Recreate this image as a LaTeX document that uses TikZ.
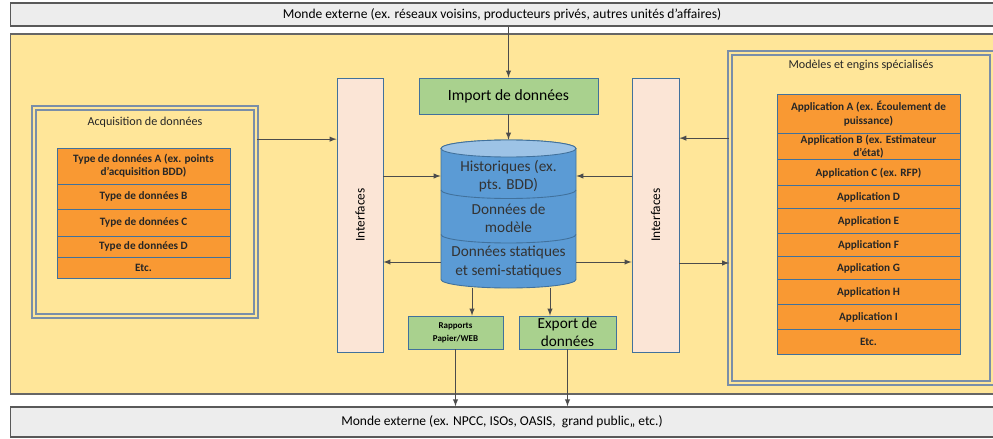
\documentclass[tikz,border=0pt]{standalone}
\usepackage{fontspec}
\setmainfont{Carlito}
\usepackage{graphicx}
\usetikzlibrary{chains,positioning,arrows}

\definecolor{fond}{HTML}{FFE699}
\definecolor{barfill}{HTML}{EDEDED}
\definecolor{orange1}{RGB}{249,153,51}
\definecolor{vert1}{HTML}{A9D18E}
\definecolor{rose1}{HTML}{FBE5D6}
\definecolor{bleu1}{HTML}{5B9BD5}
\definecolor{bleu2}{HTML}{9DC3E6}
\definecolor{bordure}{HTML}{41719C}
\definecolor{cadreline}{HTML}{7A8EA8}

\begin{document}
\begin{tikzpicture}[x=0.02cm,y=-0.02cm,
        bar/.style={
          draw=black!65,
          line width=0.8pt,
          fill=barfill,
          minimum width=19.66cm,
          inner sep=0pt,
          font=\fontsize{7.7}{9}\selectfont
        },
        cadre/.style={
          draw=cadreline,
          double=fond,
          double distance=0.9pt,
          line width=1pt,
          inner sep=0pt
        },
        titre/.style={
          font=\fontsize{6.9}{8}\selectfont,
          text=black!85
        },
        orow/.style={
          on chain,
          draw=bordure,
          fill=orange1,
          line width=0.5pt,
          inner sep=1pt,
          outer sep=0pt,
          align=center,
          text=black!85,
          font=\fontsize{6.4}{7.6}\selectfont\bfseries
        },
        vert/.style={
          draw=bordure,
          fill=vert1,
          line width=0.5pt,
          inner sep=1pt,
          align=center
        },
        intf/.style={
          draw=bordure,
          fill=rose1,
          line width=0.5pt,
          minimum height=5.48cm,
          inner sep=0pt,
          font=\fontsize{7.6}{9}\selectfont
        },
        dbtxt/.style={
          align=center,
          text=black!80,
          font=\fontsize{8.7}{10.4}\selectfont
        },
        fl/.style={-latex,draw=black!70,line width=0.4pt},
        node distance=0pt
        ]
        \useasboundingbox[fill=white] (0,0) rectangle (993,439);

        \node[bar,minimum height=0.46cm] (haut) at (502,14.5)
          {Monde externe (ex. réseaux voisins, producteurs privés, autres unités d’affaires)};
        \node[draw=black!60,line width=0.7pt,fill=fond,minimum width=19.66cm,minimum height=7.2cm] (zone) at (502,214) {};
        \node[bar,minimum height=0.6cm] (bas) at (502,422)
          {Monde externe (ex. NPCC, ISOs, OASIS,~ grand public,, etc.)};

        % acquisition
        \node[cadre,minimum width=4.44cm,minimum height=4.16cm] (acq) at (145,212) {};
        \node[titre] (acqt) at (145,122) {Acquisition de données};
        \begin{scope}[start chain=acqs going below]
        \node[orow,minimum width=3.46cm,minimum height=0.72cm,anchor=north] at (143.5,148)
          (tA) {Type de données A (ex. points\\d’acquisition BDD)};
        \node[orow,minimum width=3.46cm,minimum height=0.5cm] (tB) {Type de données B};
        \node[orow,minimum width=3.46cm,minimum height=0.54cm] (tC) {Type de données C};
        \node[orow,minimum width=3.46cm,minimum height=0.42cm] (tD) {Type de données D};
        \node[orow,minimum width=3.46cm,minimum height=0.42cm] (tE) {Etc.};
        \end{scope}

        % modeles
        \node[cadre,minimum width=5.24cm,minimum height=6.6cm] (mod) at (861,218) {};
        \node[titre] (modt) at (861,65) {Modèles et engins spécialisés};
        \begin{scope}[start chain=apps going below]
        \node[orow,minimum width=3.66cm,minimum height=0.78cm,anchor=north] at (868.5,94)
          (aA) {Application A (ex. Écoulement de\\puissance)};
        \node[orow,minimum width=3.66cm,minimum height=0.5cm] (aB) {Application B (ex. Estimateur\\d’état)};
        \node[orow,minimum width=3.66cm,minimum height=0.52cm] (aC) {Application C (ex. RFP)};
        \node[orow,minimum width=3.66cm,minimum height=0.46cm] (aD) {Application D};
        \node[orow,minimum width=3.66cm,minimum height=0.5cm] (aE) {Application E};
        \node[orow,minimum width=3.66cm,minimum height=0.46cm] (aF) {Application F};
        \node[orow,minimum width=3.66cm,minimum height=0.46cm] (aG) {Application G};
        \node[orow,minimum width=3.66cm,minimum height=0.5cm] (aH) {Application H};
        \node[orow,minimum width=3.66cm,minimum height=0.5cm] (aI) {Application I};
        \node[orow,minimum width=3.66cm,minimum height=0.5cm] (aJ) {Etc.};
        \end{scope}

        % interfaces
        \node[intf,minimum width=0.92cm] (ifl) at (360,215) {\rotatebox{90}{Interfaces}};
        \node[intf,minimum width=0.94cm] (ifr) at (655.5,215) {\rotatebox{90}{Interfaces}};

        \node[vert,minimum width=3.58cm,minimum height=0.72cm,font=\fontsize{8.9}{10}\selectfont] (imp) at (508.5,96)
          {Import de données};
        \node[vert,minimum width=1.9cm,minimum height=0.66cm,font=\fontsize{5.1}{7.2}\selectfont\bfseries] (rap) at (455.5,332.5)
          {Rapports\\Papier/WEB};
        \node[vert,minimum width=1.94cm,minimum height=0.66cm,font=\fontsize{8.7}{10}\selectfont] (exp) at (567.5,332.5)
          {Export de\\données};

        % base de donnees
        \node[minimum width=2.7cm,minimum height=2.96cm,inner sep=0pt] (db) at (508.5,214) {};
        \filldraw[fill=bleu1,draw=bordure,line width=0.5pt] (441,148.5) -- (441,279.5)
          arc[start angle=180,end angle=360,x radius=1.35cm,y radius=0.17cm] -- (576,148.5)
          arc[start angle=0,end angle=180,x radius=1.35cm,y radius=0.17cm] -- cycle;
        \filldraw[fill=bleu2,draw=bordure,line width=0.5pt] (508.5,148.5) ellipse[x radius=1.35cm,y radius=0.17cm];
        \draw[bordure,line width=0.5pt] (441,190) arc[start angle=180,end angle=360,x radius=1.35cm,y radius=0.17cm];
        \draw[bordure,line width=0.5pt] (441,234.5) arc[start angle=180,end angle=360,x radius=1.35cm,y radius=0.17cm];
        \node[dbtxt] (hist) at (508.5,176) {Historiques (ex.\\pts. BDD)};
        \node[dbtxt] (modl) at (508.5,218) {Données de\\modèle};
        \node[dbtxt] (stat) at (508.5,262) {Données statiques\\et semi-statiques};

        \draw[fl] (imp.north |- haut.south) -- (imp.north);
        \draw[fl] (imp.south) -- (db.north);
        \draw[fl] ([yshift=-0.64cm]acq.north east) coordinate (a1) -- (ifl.west |- a1);
        \draw[fl] (ifl.east |- hist) -- (db.west |- hist);
        \draw[fl] (ifr.west |- hist) -- (db.east |- hist);
        \draw[fl] (db.west |- stat) -- (ifl.east |- stat);
        \draw[fl] (db.east |- stat) -- (ifr.west |- stat);
        \draw[fl] ([yshift=-1.72cm]mod.north west) coordinate (m1) -- (ifr.east |- m1);
        \draw[fl] (ifr.east |- 0,263) coordinate (m2) -- (mod.west |- m2);
        \draw[fl] ([xshift=-0.73cm]db.south) -- ([xshift=-0.73cm]db.south |- rap.north);
        \draw[fl] ([xshift=0.83cm]db.south) -- ([xshift=0.83cm]db.south |- exp.north);
        \draw[fl] (rap.south) -- (rap.south |- bas.north);
        \draw[fl] (exp.south) -- (exp.south |- bas.north);
    \end{tikzpicture}
\end{document}
